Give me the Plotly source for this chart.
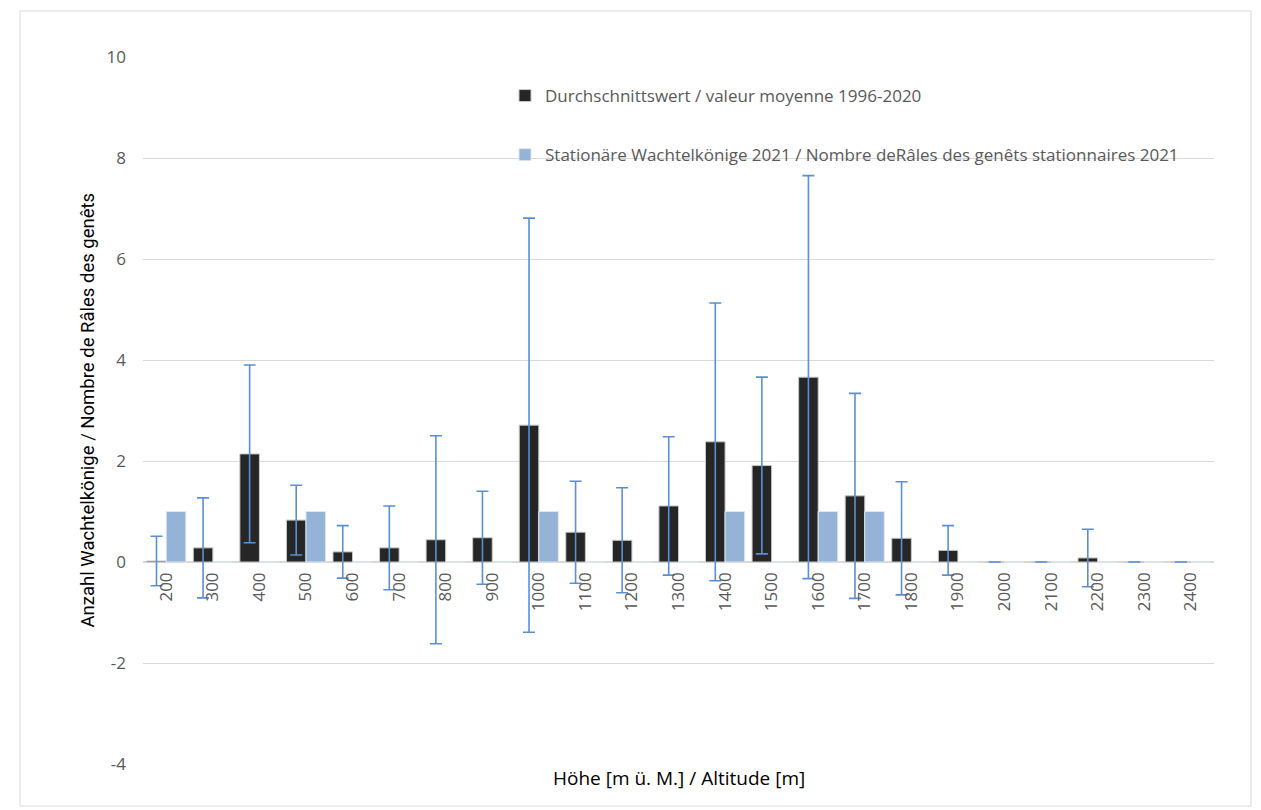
import plotly.graph_objects as go

altitudes = [str(a) for a in range(200, 2500, 100)]
mean_1996_2020 = [0.02, 0.28, 2.14, 0.83, 0.20, 0.28, 0.44, 0.48, 2.71, 0.59, 0.43, 1.11,
                  2.38, 1.91, 3.66, 1.31, 0.47, 0.23, 0.0, 0.0, 0.08, 0.0, 0.0]
std_err = [0.49, 0.99, 1.76, 0.69, 0.52, 0.83, 2.06, 0.92, 4.10, 1.01, 1.04, 1.37,
           2.75, 1.75, 3.99, 2.03, 1.12, 0.49, 0.0, 0.0, 0.57, 0.0, 0.0]
stationary_2021 = [1, 0, 0, 1, 0, 0, 0, 0, 1, 0, 0, 0, 1, 0, 1, 1, 0, 0, 0, 0, 0, 0, 0]
y_tickvals = [-4, -2, 0, 2, 4, 6, 8, 10]
y_ticktext = ["-4", "-2", "0", "2", "4", "6", "8", "10"]

OFF = 8  # page offset of the figure
W, H = 1261 - OFF, 810 - OFF
L, R, T, B = 143 - OFF, 47, 57 - OFF, 46
pw, ph = W - L - R, H - T - B

def px_x(x):  # screen px -> paper
    return (x - OFF - L) / pw

def px_y(y):
    return (H - B - (y - OFF)) / ph

FONT = "Open Sans"
GRAY = "#595959"

fig = go.Figure()
fig.add_trace(go.Bar(
    x=altitudes, y=mean_1996_2020,
    name="Durchschnittswert / valeur moyenne 1996-2020",
    legendgroup="a",
    marker=dict(color="#262626", line=dict(color="#c8c8c8", width=1)),
    error_y=dict(type="data", array=std_err, visible=True,
                 color="#5b8fd4", thickness=1.6, width=6),
))
fig.add_trace(go.Bar(
    x=altitudes, y=stationary_2021,
    name="Stationäre Wachtelkönige 2021 / Nombre deRâles des genêts stationnaires 2021",
    legendgroup="b",
    marker=dict(color="#95b3d7", line=dict(color="#dde6f1", width=1)),
))

fig.update_layout(
    width=W, height=H,
    margin=dict(l=L, r=R, t=T, b=B),
    paper_bgcolor="white", plot_bgcolor="white",
    barmode="group", bargap=0.16, bargroupgap=0.0,
    font=dict(family=FONT, color=GRAY, size=16),
    showlegend=True,
    legend=dict(x=px_x(505), y=px_y(78), xanchor="left", yanchor="top",
                tracegroupgap=34, font=dict(size=17, color=GRAY, family=FONT),
                bgcolor="rgba(0,0,0,0)", itemwidth=30),
    xaxis=dict(type="category", anchor="free", position=4/14,
               showline=False, ticks="", showgrid=False, zeroline=False,
               ticklabelstandoff=6,
               tickangle=-90, tickfont=dict(size=17, color=GRAY, family=FONT)),
    yaxis=dict(range=[-4, 10], tickvals=y_tickvals, ticktext=y_ticktext,
               gridcolor="#d9d9d9", gridwidth=1,
               zeroline=True, zerolinecolor="#d9d9d9", zerolinewidth=1.5,
               showline=False, ticks="", ticklabelstandoff=16,
               tickfont=dict(size=17, color=GRAY, family=FONT)),
    annotations=[
        dict(text="Anzahl Wachtelkönige / Nombre de Râles des genêts",
             xref="paper", yref="paper", x=px_x(87), y=0.5, textangle=-90,
             showarrow=False, xanchor="center", yanchor="middle",
             font=dict(size=18.5, color="#000000", family="Roboto")),
        dict(text="Höhe [m ü. M.] / Altitude [m]",
             xref="paper", yref="paper", x=0.5, y=px_y(778),
             showarrow=False, xanchor="center", yanchor="middle",
             font=dict(size=19, color="#000000", family=FONT)),
    ],
    shapes=[dict(type="rect", xref="paper", yref="paper",
                 x0=px_x(20), x1=px_x(1251), y0=px_y(806), y1=px_y(11),
                 line=dict(color="#d9d9d9", width=1), fillcolor="rgba(0,0,0,0)",
                 layer="below")],
)

fig.write_html("out.html")
